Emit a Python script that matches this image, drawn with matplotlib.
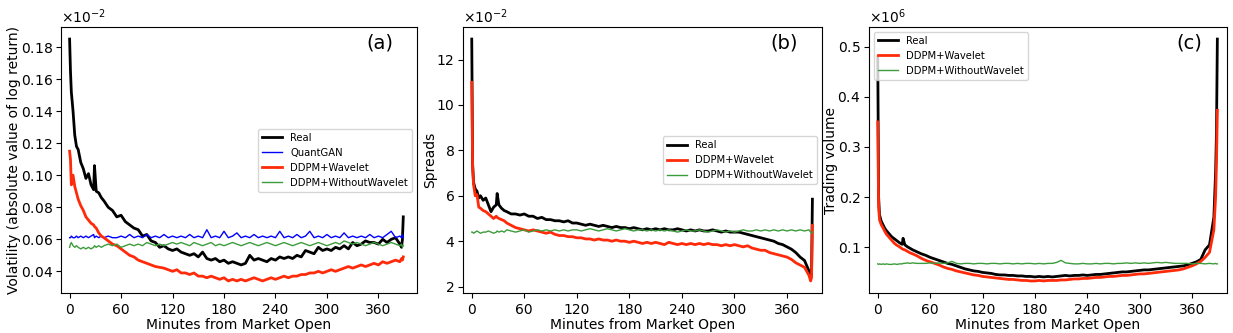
import numpy as np
import matplotlib
matplotlib.use("Agg")
import matplotlib.pyplot as plt

# minute grid shared by every series (denser at the open and at the close)
MINUTES = [0, 1, 2, 4, 6, 8, 10, 13, 16, 19,
           22, 25, 28, 29, 31, 34, 37, 40, 45, 50,
           55, 60, 65, 70, 75, 80, 85, 90, 95, 100,
           105, 110, 115, 120, 125, 130, 135, 140, 145, 150,
           155, 160, 165, 170, 175, 180, 185, 190, 195, 200,
           205, 210, 215, 220, 225, 230, 235, 240, 245, 250,
           255, 260, 265, 270, 275, 280, 285, 290, 295, 300,
           305, 310, 315, 320, 325, 330, 335, 340, 345, 350,
           355, 360, 365, 370, 375, 380, 385, 387, 388, 389]
XTICKS = [0, 60, 120, 180, 240, 300, 360]

# (a) volatility, in units of 1e-2
VOL_SCALE = 1e-2
vol_real = [0.185, 0.165, 0.152, 0.140, 0.125, 0.118, 0.116, 0.108, 0.104, 0.098,
            0.101, 0.094, 0.091, 0.106, 0.090, 0.089, 0.086, 0.084, 0.080, 0.078,
            0.074, 0.075, 0.071, 0.069, 0.067, 0.066, 0.062, 0.063, 0.059, 0.058,
            0.055, 0.056, 0.054, 0.053, 0.054, 0.052, 0.051, 0.050, 0.051, 0.049,
            0.052, 0.048, 0.047, 0.048, 0.046, 0.047, 0.045, 0.046, 0.045, 0.044,
            0.045, 0.050, 0.047, 0.048, 0.047, 0.046, 0.048, 0.047, 0.049, 0.048,
            0.049, 0.048, 0.050, 0.049, 0.053, 0.052, 0.051, 0.055, 0.053, 0.054,
            0.053, 0.055, 0.054, 0.056, 0.054, 0.058, 0.056, 0.057, 0.059, 0.058,
            0.058, 0.057, 0.060, 0.058, 0.060, 0.061, 0.057, 0.055, 0.060, 0.074]
vol_quantgan = [0.061, 0.061, 0.062, 0.061, 0.061, 0.062, 0.061, 0.062, 0.061, 0.062,
                0.061, 0.062, 0.063, 0.061, 0.062, 0.061, 0.062, 0.061, 0.062, 0.061,
                0.061, 0.062, 0.061, 0.063, 0.061, 0.062, 0.061, 0.063, 0.061, 0.062,
                0.061, 0.063, 0.061, 0.062, 0.061, 0.062, 0.061, 0.063, 0.061, 0.062,
                0.061, 0.066, 0.061, 0.062, 0.061, 0.065, 0.061, 0.062, 0.064, 0.061,
                0.062, 0.061, 0.063, 0.061, 0.062, 0.061, 0.062, 0.061, 0.065, 0.061,
                0.062, 0.061, 0.063, 0.061, 0.062, 0.065, 0.061, 0.062, 0.061, 0.063,
                0.061, 0.062, 0.061, 0.064, 0.061, 0.062, 0.061, 0.062, 0.061, 0.063,
                0.061, 0.062, 0.061, 0.063, 0.065, 0.061, 0.062, 0.061, 0.063, 0.061]
vol_ddpm_wav = [0.115, 0.110, 0.094, 0.100, 0.093, 0.089, 0.085, 0.081, 0.078, 0.074,
                0.072, 0.070, 0.069, 0.068, 0.067, 0.064, 0.062, 0.061, 0.059, 0.057,
                0.056, 0.054, 0.052, 0.050, 0.049, 0.047, 0.046, 0.045, 0.044, 0.043,
                0.0425, 0.042, 0.041, 0.040, 0.041, 0.039, 0.039, 0.038, 0.039, 0.037,
                0.037, 0.036, 0.037, 0.036, 0.035, 0.036, 0.034, 0.035, 0.034, 0.035,
                0.034, 0.035, 0.036, 0.035, 0.034, 0.035, 0.036, 0.035, 0.036, 0.037,
                0.036, 0.037, 0.037, 0.038, 0.038, 0.039, 0.039, 0.040, 0.039, 0.040,
                0.041, 0.040, 0.041, 0.042, 0.043, 0.042, 0.043, 0.044, 0.043, 0.044,
                0.045, 0.044, 0.046, 0.045, 0.046, 0.047, 0.046, 0.048, 0.047, 0.049]
vol_ddpm_nowav = [0.055, 0.057, 0.058, 0.056, 0.055, 0.056, 0.055, 0.054, 0.055, 0.054,
                  0.055, 0.054, 0.055, 0.056, 0.055, 0.056, 0.055, 0.056, 0.057, 0.056,
                  0.057, 0.055, 0.056, 0.057, 0.056, 0.057, 0.056, 0.058, 0.057, 0.056,
                  0.057, 0.056, 0.057, 0.058, 0.057, 0.058, 0.057, 0.056, 0.058, 0.057,
                  0.056, 0.057, 0.058, 0.056, 0.057, 0.056, 0.057, 0.058, 0.057, 0.056,
                  0.057, 0.058, 0.057, 0.056, 0.057, 0.058, 0.057, 0.056, 0.057, 0.058,
                  0.057, 0.056, 0.057, 0.058, 0.057, 0.056, 0.057, 0.058, 0.057, 0.056,
                  0.057, 0.058, 0.057, 0.059, 0.058, 0.057, 0.058, 0.057, 0.056, 0.057,
                  0.058, 0.057, 0.056, 0.057, 0.058, 0.057, 0.056, 0.057, 0.055, 0.056]

# (b) spreads, in units of 1e-2
SPREAD_SCALE = 1e-2
spr_real = [12.9, 7.4, 6.6, 6.3, 6.2, 5.9, 6.0, 5.8, 5.9, 5.6,
            5.3, 5.5, 5.6, 6.1, 5.6, 5.45, 5.35, 5.3, 5.2, 5.2,
            5.15, 5.2, 5.1, 5.1, 5.0, 5.05, 4.95, 4.95, 4.9, 4.9,
            4.85, 4.9, 4.8, 4.8, 4.75, 4.7, 4.75, 4.7, 4.65, 4.7,
            4.65, 4.6, 4.65, 4.6, 4.6, 4.55, 4.6, 4.55, 4.5, 4.55,
            4.5, 4.55, 4.5, 4.55, 4.5, 4.5, 4.55, 4.5, 4.45, 4.5,
            4.45, 4.5, 4.45, 4.45, 4.5, 4.45, 4.4, 4.45, 4.4, 4.4,
            4.4, 4.35, 4.3, 4.25, 4.2, 4.15, 4.1, 4.05, 4.0, 3.9,
            3.85, 3.75, 3.65, 3.5, 3.3, 3.15, 2.7, 2.4, 2.6, 5.85]
spr_ddpm_wav = [11.0, 7.3, 6.5, 6.0, 6.05, 5.5, 5.45, 5.35, 5.3, 5.2,
                5.1, 5.0, 5.1, 5.05, 5.0, 4.95, 4.9, 4.8, 4.7, 4.6,
                4.55, 4.5, 4.45, 4.5, 4.45, 4.4, 4.35, 4.4, 4.3, 4.25,
                4.25, 4.2, 4.2, 4.15, 4.15, 4.1, 4.1, 4.05, 4.1, 4.05,
                4.05, 4.0, 4.05, 4.0, 4.0, 3.95, 4.0, 3.95, 3.9, 3.95,
                3.9, 3.95, 3.9, 3.85, 3.95, 3.9, 3.85, 3.9, 3.85, 3.9,
                3.85, 3.9, 3.85, 3.9, 3.85, 3.85, 3.8, 3.85, 3.8, 3.85,
                3.8, 3.75, 3.8, 3.7, 3.65, 3.6, 3.6, 3.5, 3.45, 3.4,
                3.35, 3.3, 3.2, 3.05, 2.95, 2.85, 2.5, 2.25, 2.4, 4.7]
spr_ddpm_nowav = [4.4, 4.4, 4.35, 4.4, 4.45, 4.4, 4.35, 4.4, 4.4, 4.45,
                  4.4, 4.35, 4.4, 4.45, 4.4, 4.45, 4.4, 4.5, 4.45, 4.4,
                  4.45, 4.5, 4.4, 4.45, 4.5, 4.45, 4.5, 4.45, 4.5, 4.45,
                  4.5, 4.45, 4.5, 4.5, 4.45, 4.5, 4.55, 4.5, 4.45, 4.5,
                  4.55, 4.5, 4.45, 4.5, 4.55, 4.5, 4.45, 4.5, 4.5, 4.45,
                  4.5, 4.45, 4.5, 4.45, 4.5, 4.45, 4.4, 4.45, 4.5, 4.45,
                  4.45, 4.5, 4.45, 4.4, 4.45, 4.5, 4.45, 4.4, 4.45, 4.4,
                  4.45, 4.5, 4.45, 4.45, 4.5, 4.45, 4.5, 4.45, 4.5, 4.45,
                  4.5, 4.45, 4.5, 4.45, 4.5, 4.45, 4.5, 4.4, 4.35, 4.4]

# (c) trading volume, in units of 1e6
VOLUME_SCALE = 1e6
tv_real = [0.48, 0.20, 0.165, 0.152, 0.145, 0.138, 0.133, 0.127, 0.121, 0.117,
           0.113, 0.109, 0.106, 0.118, 0.105, 0.101, 0.098, 0.095, 0.091, 0.087,
           0.084, 0.080, 0.077, 0.074, 0.071, 0.068, 0.066, 0.063, 0.060, 0.057,
           0.055, 0.053, 0.052, 0.050, 0.049, 0.048, 0.046, 0.045, 0.045, 0.044,
           0.044, 0.043, 0.043, 0.042, 0.042, 0.041, 0.042, 0.041, 0.042, 0.041,
           0.042, 0.043, 0.044, 0.043, 0.044, 0.044, 0.045, 0.044, 0.045, 0.046,
           0.046, 0.047, 0.048, 0.049, 0.050, 0.051, 0.051, 0.052, 0.053, 0.054,
           0.055, 0.055, 0.056, 0.057, 0.058, 0.059, 0.060, 0.061, 0.062, 0.063,
           0.065, 0.068, 0.071, 0.076, 0.095, 0.105, 0.160, 0.250, 0.330, 0.515]
tv_ddpm_wav = [0.35, 0.18, 0.155, 0.145, 0.139, 0.132, 0.126, 0.120, 0.114, 0.108,
               0.104, 0.101, 0.097, 0.096, 0.095, 0.092, 0.089, 0.087, 0.083, 0.078,
               0.074, 0.071, 0.068, 0.065, 0.061, 0.058, 0.056, 0.053, 0.051, 0.049,
               0.047, 0.045, 0.044, 0.042, 0.041, 0.040, 0.039, 0.038, 0.037, 0.036,
               0.036, 0.035, 0.034, 0.034, 0.033, 0.033, 0.034, 0.033, 0.034, 0.034,
               0.034, 0.035, 0.035, 0.036, 0.037, 0.037, 0.038, 0.038, 0.039, 0.040,
               0.040, 0.041, 0.042, 0.042, 0.043, 0.044, 0.044, 0.045, 0.046, 0.047,
               0.047, 0.048, 0.049, 0.050, 0.051, 0.052, 0.053, 0.054, 0.055, 0.057,
               0.060, 0.063, 0.067, 0.072, 0.080, 0.090, 0.135, 0.200, 0.270, 0.373]
tv_ddpm_nowav = [0.067, 0.066, 0.067, 0.066, 0.067, 0.066, 0.067, 0.066, 0.066, 0.067,
                 0.066, 0.067, 0.067, 0.068, 0.068, 0.069, 0.068, 0.069, 0.068, 0.068,
                 0.068, 0.069, 0.068, 0.069, 0.068, 0.069, 0.072, 0.068, 0.067, 0.068,
                 0.068, 0.067, 0.068, 0.068, 0.067, 0.068, 0.068, 0.067, 0.068, 0.068,
                 0.067, 0.068, 0.067, 0.068, 0.068, 0.067, 0.068, 0.067, 0.068, 0.068,
                 0.070, 0.074, 0.069, 0.068, 0.067, 0.067, 0.068, 0.067, 0.067, 0.068,
                 0.067, 0.068, 0.068, 0.067, 0.068, 0.068, 0.069, 0.068, 0.069, 0.068,
                 0.069, 0.068, 0.069, 0.070, 0.069, 0.070, 0.069, 0.068, 0.068, 0.068,
                 0.068, 0.067, 0.068, 0.068, 0.067, 0.068, 0.067, 0.068, 0.067, 0.067]

RED = "#ff2a0a"
GREEN = "#3c9c3c"


def style_axis(ax, ylabel, tag, order, xlim):
    ax.set_xticks(XTICKS)
    ax.set_xlim(*xlim)
    ax.set_xlabel("Minutes from Market Open", fontsize=10, labelpad=1)
    ax.set_ylabel(ylabel, fontsize=10, labelpad=-0.5)
    ax.tick_params(labelsize=10)
    ax.tick_params(axis="y", pad=2.5)
    ax.ticklabel_format(axis="y", style="sci", scilimits=(order, order),
                        useMathText=True)
    ax.yaxis.get_offset_text().set_fontsize(10)
    ax.text(0.895, 0.94, tag, transform=ax.transAxes, fontsize=14,
            ha="center", va="center")


fig = plt.figure(figsize=(12.33, 3.33), dpi=100)
ax_a = fig.add_axes([0.0495, 0.120, 0.2887, 0.799])
ax_b = fig.add_axes([0.3755, 0.120, 0.2912, 0.799])
ax_c = fig.add_axes([0.7048, 0.120, 0.2903, 0.799])

t = np.array(MINUTES)

# (a)
ax_a.plot(t, np.array(vol_real) * VOL_SCALE, color="black", lw=2, label="Real")
ax_a.plot(t, np.array(vol_quantgan) * VOL_SCALE, color="blue", lw=1, label="QuantGAN")
ax_a.plot(t, np.array(vol_ddpm_wav) * VOL_SCALE, color=RED, lw=2, label="DDPM+Wavelet")
ax_a.plot(t, np.array(vol_ddpm_nowav) * VOL_SCALE, color=GREEN, lw=1,
          label="DDPM+WithoutWavelet")
style_axis(ax_a, "Volatility (absolute value of log return)", "(a)", -2, (-10, 405))
ax_a.legend(loc="center right", fontsize=7.2)

# (b)
ax_b.plot(t, np.array(spr_real) * SPREAD_SCALE, color="black", lw=2, label="Real")
ax_b.plot(t, np.array(spr_ddpm_wav) * SPREAD_SCALE, color=RED, lw=2, label="DDPM+Wavelet")
ax_b.plot(t, np.array(spr_ddpm_nowav) * SPREAD_SCALE, color=GREEN, lw=1,
          label="DDPM+WithoutWavelet")
style_axis(ax_b, "Spreads", "(b)", -2, (-10, 400))
ax_b.legend(loc="center right", fontsize=7.2)

# (c)
ax_c.plot(t, np.array(tv_real) * VOLUME_SCALE, color="black", lw=2, label="Real")
ax_c.plot(t, np.array(tv_ddpm_wav) * VOLUME_SCALE, color=RED, lw=2, label="DDPM+Wavelet")
ax_c.plot(t, np.array(tv_ddpm_nowav) * VOLUME_SCALE, color=GREEN, lw=1,
          label="DDPM+WithoutWavelet")
style_axis(ax_c, "Trading volume", "(c)", 6, (-10, 400))
ax_c.legend(loc="upper left", fontsize=7.2)

fig.savefig("out.png", dpi=100)
